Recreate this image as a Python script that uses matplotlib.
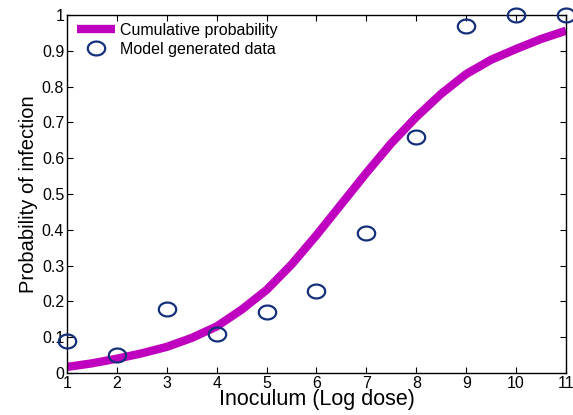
import matplotlib
matplotlib.use("Agg")
import matplotlib.pyplot as plt
import numpy as np
from matplotlib.path import Path

# values
dose = [1, 2, 3, 4, 5, 6, 7, 8, 9, 10, 11]
model_data = [0.09, 0.05, 0.18, 0.11, 0.17, 0.23, 0.39, 0.66, 0.97, 1.0, 1.0]
# curve read at half-dose steps
curve_dose = [1, 1.5, 2, 2.5, 3, 3.5, 4, 4.5, 5, 5.5, 6, 6.5, 7, 7.5, 8, 8.5, 9, 9.5, 10, 10.5, 11]
cum_prob = [0.017, 0.027, 0.040, 0.055, 0.073, 0.098, 0.130, 0.177, 0.232, 0.303, 0.385,
            0.472, 0.559, 0.642, 0.715, 0.780, 0.835, 0.875, 0.905, 0.933, 0.956]
y_ticks = [0, 0.1, 0.2, 0.3, 0.4, 0.5, 0.6, 0.7, 0.8, 0.9, 1]
y_tick_labels = ["0", "0.1", "0.2", "0.3", "0.4", "0.5", "0.6", "0.7", "0.8", "0.9", "1"]

plt.rcParams["font.family"] = ["Liberation Sans", "DejaVu Sans"]

# slightly flattened circle, like in the reference
t = np.linspace(0, 2 * np.pi, 60)
ellipse = Path(np.column_stack([np.cos(t), 0.8 * np.sin(t)]), closed=True)

fig = plt.figure(figsize=(5.73, 4.15), dpi=100)
ax = fig.add_axes([0.1169, 0.1012, 0.8709, 0.8627])

ax.plot(curve_dose, cum_prob, color="#BF00BF", linewidth=6, solid_capstyle="butt",
        label="Cumulative probability", zorder=2)
ax.plot(dose, model_data, linestyle="none", marker=ellipse, markersize=12.5,
        markerfacecolor="none", markeredgecolor="#15307A", markeredgewidth=1.6,
        label="Model generated data", zorder=3, clip_on=False)

ax.set_xlim(1, 11)
ax.set_ylim(0, 1)
ax.set_xticks(dose)
ax.set_yticks(y_ticks)
ax.set_yticklabels(y_tick_labels)
ax.tick_params(direction="in", top=True, right=True, length=4, width=0.8,
               labelsize=11.5, pad=2)
for s in ax.spines.values():
    s.set_linewidth(1.0)

ax.set_xlabel("Inoculum (Log dose)", fontsize=15.5, labelpad=-1)
ax.set_ylabel("Probability of infection", fontsize=14.5, labelpad=3)

ax.legend(loc="upper left", frameon=False, fontsize=11.5, handlelength=2.4,
          handletextpad=0.3, borderaxespad=0.2, labelspacing=0.25,
          bbox_to_anchor=(0.0, 1.005))

fig.savefig("out.png", dpi=100)
